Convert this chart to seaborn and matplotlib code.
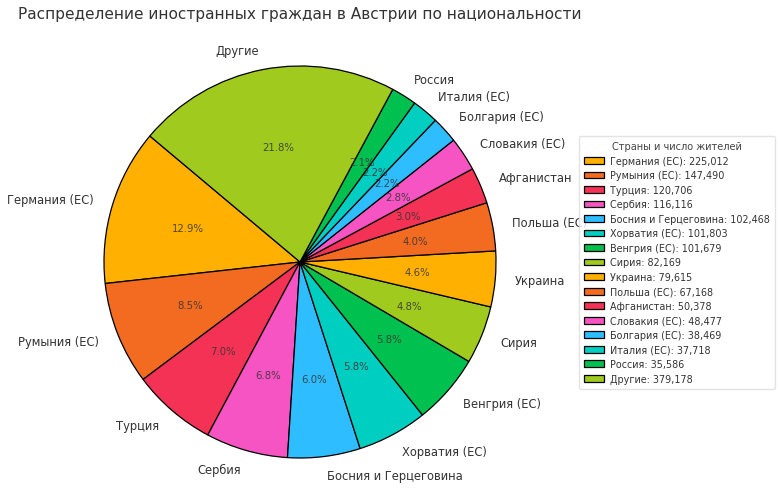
import matplotlib
matplotlib.use("Agg")
import matplotlib.pyplot as plt
import seaborn as sns

countries = ["Германия (ЕС)", "Румыния (ЕС)", "Турция", "Сербия", "Босния и Герцеговина",
             "Хорватия (ЕС)", "Венгрия (ЕС)", "Сирия", "Украина", "Польша (ЕС)",
             "Афганистан", "Словакия (ЕС)", "Болгария (ЕС)", "Италия (ЕС)", "Россия", "Другие"]
residents = [225012, 147490, 120706, 116116, 102468, 101803, 101679, 82169, 79615,
             67168, 50378, 48477, 38469, 37718, 35586, 379178]
shares = [12.9, 8.5, 7.0, 6.8, 6.0, 5.8, 5.8, 4.8, 4.6, 4.0, 3.0, 2.8, 2.2, 2.2, 2.1, 21.8]

base_colors = ["#FFB000", "#F26B21", "#F43256", "#F654C2", "#2EBEFF", "#00CEC0", "#00C050", "#A0CA1E"]

sns.set_theme(style="white")
plt.rcParams['font.family'] = ['DejaVu Sans']
palette = sns.color_palette(base_colors * 2)

fig = plt.figure(figsize=(7.8, 4.89), dpi=100)
ax = fig.add_axes([55/780, -19/489, 490/780, 490/489])

it = iter(shares)
wedges, texts, autotexts = ax.pie(
    shares, labels=countries, colors=palette, startangle=140, counterclock=True,
    autopct=lambda p: f"{next(it):.1f}%", pctdistance=0.6, labeldistance=1.1,
    wedgeprops=dict(edgecolor="black", linewidth=0.9),
    textprops=dict(fontsize=8.3, color="#333333"))
for t in autotexts:
    t.set_fontsize(7.3)
    t.set_color("#333333")
    t.set_alpha(0.85)
ax.set_aspect("equal")

legend_labels = [f"{c}: {v:,}" for c, v in zip(countries, residents)]
leg = fig.legend(wedges, legend_labels, title="Страны и число жителей",
                 loc="center left", bbox_to_anchor=(574/780, (489-263.5)/489),
                 fontsize=6.95, title_fontsize=7, frameon=True,
                 handlelength=2.15, handleheight=0.7, labelspacing=0.47,
                 borderpad=0.5, handletextpad=0.6)
leg.get_frame().set_edgecolor("#dddddd")
for t in leg.get_texts():
    t.set_color("#333333")
leg.get_title().set_color("#444444")

fig.text(18/780, 1 - 15/489, "Распределение иностранных граждан в Австрии по национальности",
         fontsize=11.1, color="#333333", ha="left", va="center")

fig.savefig("out.png", dpi=100)
